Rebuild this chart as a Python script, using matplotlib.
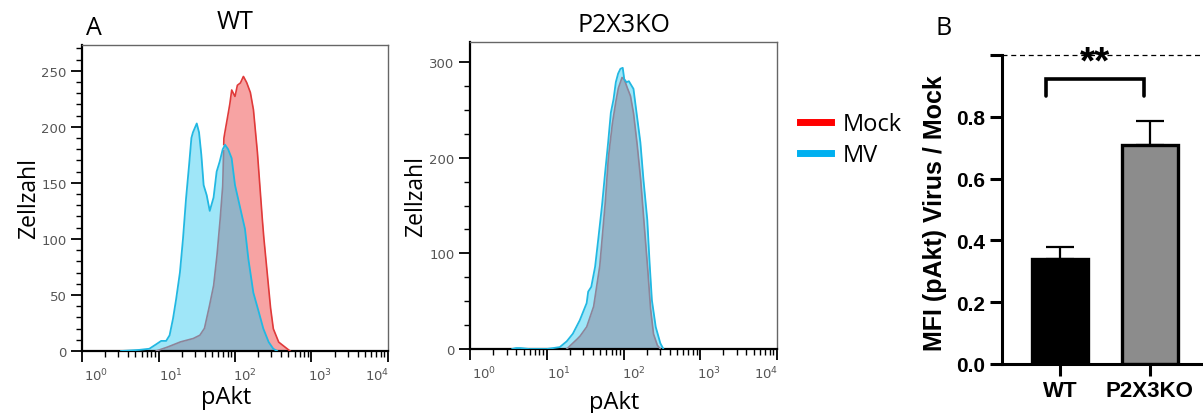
import numpy as np
import matplotlib
matplotlib.use("Agg")
import matplotlib.pyplot as plt
from matplotlib.lines import Line2D
from matplotlib.ticker import FixedLocator, LogLocator, MultipleLocator, NullFormatter
from matplotlib.transforms import ScaledTranslation

# Flow histograms: log10(pAkt) positions and cell counts
wt_mock_log = [0.97, 1.10, 1.28, 1.45, 1.54, 1.60, 1.65, 1.72, 1.76, 1.80, 1.84, 1.855,
               1.89, 1.93, 1.956, 2.0, 2.03, 2.07, 2.11, 2.15, 2.20, 2.24, 2.29, 2.33,
               2.37, 2.42, 2.46, 2.50, 2.57, 2.68, 2.72]
wt_mock_cnt = [0, 3, 8, 11, 14, 20, 35, 58, 82, 112, 148, 190,
               204, 219, 233, 227, 237, 239, 245, 240, 231, 216, 180, 142,
               106, 70, 41, 20, 8, 2, 0]
wt_mv_log = [0.51, 0.75, 0.88, 0.97, 1.035, 1.10, 1.145, 1.19, 1.23, 1.28, 1.32, 1.36,
             1.40, 1.43, 1.45, 1.50, 1.53, 1.56, 1.59, 1.63, 1.67, 1.72, 1.76, 1.80,
             1.84, 1.87, 1.91, 1.956, 2.0, 2.06, 2.13, 2.175, 2.24, 2.31, 2.37, 2.44,
             2.50, 2.55]
wt_mv_cnt = [0, 1, 2, 6, 9, 9, 14, 29, 46, 70, 100, 136,
             166, 190, 195, 203, 195, 175, 148, 139, 125, 137, 160, 169,
             180, 184, 180, 172, 148, 130, 109, 82, 52, 35, 20, 8,
             2, 0]

ko_mock_log = [1.26, 1.34, 1.43, 1.52, 1.61, 1.69, 1.76, 1.80, 1.85, 1.89, 1.93, 1.98,
               2.01, 2.04, 2.09, 2.13, 2.17, 2.22, 2.26, 2.31, 2.35, 2.39, 2.44, 2.48]
ko_mock_cnt = [0, 6, 13, 23, 44, 86, 150, 198, 233, 254, 272, 284,
               282, 275, 265, 247, 220, 181, 139, 90, 44, 16, 4, 0]
ko_mv_log = [0.55, 0.60, 0.66, 0.77, 1.0, 1.17, 1.26, 1.34, 1.43, 1.52, 1.54, 1.58,
             1.63, 1.67, 1.72, 1.76, 1.80, 1.835, 1.87, 1.90, 1.93, 1.96, 1.99, 2.01,
             2.04, 2.07, 2.13, 2.17, 2.22, 2.26, 2.31, 2.34, 2.37, 2.42, 2.48, 2.52]
ko_mv_cnt = [0, 1, 1, 0, 0, 2, 8, 16, 30, 48, 60, 65,
             86, 114, 150, 184, 216, 247, 261, 279, 288, 293, 294, 282,
             279, 280, 272, 247, 216, 177, 135, 90, 51, 23, 6, 0]

# Panel B
groups = ["WT", "P2X3KO"]
mfi_ratio = [0.34, 0.71]
mfi_err = [0.04, 0.075]
bar_colors = ["black", "#8c8c8c"]

MOCK_FILL, MOCK_LINE, MOCK_UNDER = "#f7a3a3", "#e03a3a", "#8e8499"
MV_FILL, MV_LINE = "#9fe6f8", "#22b8e2"
OVERLAP = "#93b3c7"

W, H = 1203, 414
fig = plt.figure(figsize=(W / 100, H / 100), dpi=100)
SANS = ["Open Sans", "DejaVu Sans"]


def px_axes(left, top, right, bottom):
    return fig.add_axes([left / W, 1 - bottom / H, (right - left) / W, (bottom - top) / H])


def histogram(ax, mock_log, mock_cnt, mv_log, mv_cnt, ymax, major, minor, label_shift):
    grid = np.linspace(0, 4, 2000)
    mock = np.interp(grid, mock_log, mock_cnt, left=0, right=0)
    mv = np.interp(grid, mv_log, mv_cnt, left=0, right=0)
    x = 10 ** grid
    ax.fill_between(x, mock, color=MOCK_FILL, lw=0, zorder=1)
    ax.fill_between(x, mv, color=MV_FILL, lw=0, zorder=1)
    ax.fill_between(x, np.minimum(mock, mv), color=OVERLAP, lw=0, zorder=2)
    # mock outline: red where it sits on top, grey-violet where MV covers it
    inside = mock <= mv
    live = mock > 0
    ax.plot(x, np.ma.masked_where(~live | inside, mock), color=MOCK_LINE, lw=1.2, zorder=3)
    ax.plot(x, np.ma.masked_where(~live | ~inside, mock), color=MOCK_UNDER, lw=1.2, zorder=3)
    ax.plot(10 ** np.array(mv_log), mv_cnt, color=MV_LINE, lw=1.3, zorder=4)

    ax.set_xscale("log")
    ax.set_xlim(1, 1e4)
    ax.set_ylim(0, ymax)
    for s in ("top", "right"):
        ax.spines[s].set_color("#666666")
        ax.spines[s].set_linewidth(1.0)
    for s in ("left", "bottom"):
        ax.spines[s].set_color("black")
        ax.spines[s].set_linewidth(1.6)
    ax.xaxis.set_major_locator(FixedLocator([1, 10, 100, 1000, 10000]))
    ax.xaxis.set_minor_locator(LogLocator(base=10, subs=np.arange(2, 10)))
    ax.xaxis.set_minor_formatter(NullFormatter())
    ax.set_xticklabels([r"$10^{%d}$" % k for k in range(5)])
    ax.yaxis.set_major_locator(MultipleLocator(major))
    ax.yaxis.set_minor_locator(MultipleLocator(minor))
    ax.tick_params(which="major", direction="out", length=8, width=1.3,
                   labelsize=9.5, labelcolor="#555555", pad=3)
    ax.tick_params(which="minor", direction="out", length=4, width=1.0)
    for lab, dx in zip(ax.get_xticklabels(), label_shift):
        lab.set_transform(lab.get_transform() + ScaledTranslation(dx / 100, 0, fig.dpi_scale_trans))
    ax.set_ylabel("Zellzahl", fontsize=16.5, family=SANS)
    ax.set_xlabel("pAkt", fontsize=17, family=SANS)


ax1 = px_axes(82, 46, 388, 352)
histogram(ax1, wt_mock_log, wt_mock_cnt, wt_mv_log, wt_mv_cnt, 273, 50, 10,
          [14, 12, 10, 9, -11])
ax1.yaxis.set_label_coords(-0.135, 0.5)
ax1.xaxis.set_label_coords(0.47, -0.11)
ax1.set_title("WT", fontsize=18, family=SANS, y=1.056, pad=0)

ax2 = px_axes(470, 43, 777, 350)
histogram(ax2, ko_mock_log, ko_mock_cnt, ko_mv_log, ko_mv_cnt, 321, 100, 25,
          [14, 12, 10, 9, -11])
ax2.yaxis.set_label_coords(-0.135, 0.5)
ax2.xaxis.set_label_coords(0.47, -0.134)
ax2.set_title("P2X3KO", fontsize=18, family=SANS, y=1.037, pad=0)

fig.text(86 / W, 1 - 35 / H, "A", fontsize=18, family=SANS)
fig.text(935 / W, 1 - 35 / H, "B", fontsize=18, family=SANS)

handles = [Line2D([], [], color="#ff0000", lw=5), Line2D([], [], color="#00b0f0", lw=5)]
fig.legend(handles, ["Mock", "MV"], loc="upper left", bbox_to_anchor=(800 / W, 1 - 113 / H),
           frameon=False, prop={"family": SANS, "size": 17}, handlelength=1.3,
           handletextpad=0.5, labelspacing=0.3, borderaxespad=0, borderpad=0)

# Panel B: bar chart
BOLD = {"family": ["Liberation Sans", "DejaVu Sans"], "weight": "bold"}
axb = px_axes(1002, 56, 1203, 365)
xpos = np.arange(len(groups))
axb.errorbar(xpos, mfi_ratio, yerr=[np.zeros(len(groups)), mfi_err], fmt="none",
             ecolor="black", elinewidth=1.6, capsize=10, capthick=1.6, zorder=1)
axb.bar(xpos, mfi_ratio, width=0.62, color=bar_colors, edgecolor="black",
        linewidth=2.4, zorder=2)
axb.set_xlim(-0.644, 1.59)
axb.set_ylim(0, 1.0)
axb.spines[["top", "right"]].set_visible(False)
for s in ("left", "bottom"):
    axb.spines[s].set_linewidth(2.2)
axb.set_yticks([0, 0.2, 0.4, 0.6, 0.8, 1.0])
axb.set_yticklabels(["0.0", "0.2", "0.4", "0.6", "0.8", ""], fontsize=15, **BOLD)
axb.set_xticks(xpos)
axb.set_xticklabels(groups, fontsize=16, **BOLD)
axb.tick_params(axis="both", length=8.5, width=2.2, pad=4)
axb.tick_params(axis="x", pad=3)
axb.set_ylabel("MFI (pAkt) Virus / Mock", fontsize=18, **BOLD)
axb.yaxis.set_label_coords(-0.272, 0.49)
axb.axhline(1.0, color="black", lw=0.9, ls=(0, (4, 3)), clip_on=False, zorder=0)

# significance bracket between the two bars
bx0, bx1 = xpos[0] - 0.15, xpos[1] - 0.07
axb.plot([bx0, bx0, bx1, bx1], [0.867, 0.922, 0.922, 0.867], color="black", lw=2.6,
         solid_capstyle="round", solid_joinstyle="miter", clip_on=False)
axb.text((bx0 + bx1) / 2 + 0.005, 0.975, "**", ha="center", va="center", fontsize=28,
         **BOLD)

fig.savefig("out.png", dpi=100)
